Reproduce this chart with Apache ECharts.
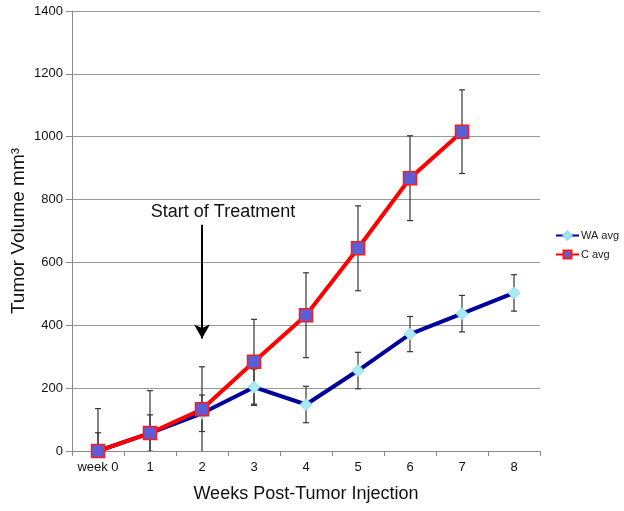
<!DOCTYPE html>
<html><head><meta charset="utf-8">
<script src="https://cdn.jsdelivr.net/npm/echarts@6/dist/echarts.min.js"></script>
<style>html,body{margin:0;padding:0;background:#fff}#c{width:624px;height:511px}</style>
</head><body><div id="c"></div>
<script>
const categories = ['week 0','1','2','3','4','5','6','7','8'];
const waAvg = [0, 57, 120, 203, 148, 256, 372, 437, 503];
const waErr = [58, 58, 58, 58, 58, 58, 56, 58, 58];
const cAvg = [0, 57, 133, 284, 432, 645, 868, 1016, null];
const cErr = [135, 135, 135, 135, 135, 135, 135, 133, null];
const yTicks = [0, 200, 400, 600, 800, 1000, 1200, 1400];
const arrowFrom = 720, arrowTo = 358, arrowCat = '2';

const font = 'Liberation Sans, Arial, Helvetica, sans-serif';
function errData(vals, errs){
  const out = [];
  vals.forEach((v,i)=>{ if (v!=null && errs[i]!=null) out.push([i, v-errs[i], v+errs[i]]); });
  return out;
}
function errRender(params, api){
  const x = api.value(0), lo = api.value(1), hi = api.value(2);
  const pHi = api.coord([x, hi]), pLo = api.coord([x, lo]);
  const w = 3;
  const st = {stroke:'#333', lineWidth:1.2};
  return {type:'group', children:[
    {type:'line', shape:{x1:pHi[0],y1:pHi[1],x2:pLo[0],y2:pLo[1]}, style:st},
    {type:'line', shape:{x1:pHi[0]-w,y1:pHi[1],x2:pHi[0]+w,y2:pHi[1]}, style:st},
    {type:'line', shape:{x1:pLo[0]-w,y1:pLo[1],x2:pLo[0]+w,y2:pLo[1]}, style:st}
  ]};
}
const chart = echarts.init(document.getElementById('c'));
chart.setOption({
  animation:false,
  backgroundColor:'#fff',
  textStyle:{fontFamily:font},
  grid:{left:72, right:84, top:11, bottom:60, containLabel:false, outerBoundsMode:'none'},
  legend:{
    orient:'vertical', left:550, top:225, itemGap:8, itemWidth:23, itemHeight:10,
    data:['WA avg','C avg'],
    textStyle:{fontSize:11, color:'#222', fontFamily:font, padding:[0,0,0,-3]}
  },
  xAxis:{
    type:'category', data:categories, boundaryGap:true,
    axisLine:{lineStyle:{color:'#888', width:1}},
    axisTick:{show:true, alignWithLabel:false, length:5, lineStyle:{color:'#888'}},
    axisLabel:{color:'#111', fontSize:13, margin:10, interval:0, fontFamily:font},
    name:'Weeks Post-Tumor Injection', nameLocation:'middle', nameGap:34, nameMoveOverlap:false,
    nameTextStyle:{fontSize:18, color:'#111', fontFamily:font}
  },
  yAxis:{
    type:'value', min:yTicks[0], max:yTicks[yTicks.length-1], interval:200,
    axisLine:{show:true, lineStyle:{color:'#888', width:1}},
    axisTick:{show:true, length:6, lineStyle:{color:'#888'}},
    axisLabel:{color:'#111', fontSize:13, margin:9, fontFamily:font, formatter:v=>String(v)},
    splitLine:{lineStyle:{color:'#999', width:1}},
    name:'Tumor Volume mm³', nameLocation:'middle', nameGap:44, nameMoveOverlap:false,
    nameTextStyle:{fontSize:19, color:'#111', fontFamily:font}
  },
  series:[
    {type:'custom', name:'errWA', renderItem:errRender, data:errData(waAvg, waErr), clip:true, z:1, silent:true, encode:{x:0, y:[1,2]}},
    {type:'custom', name:'errC', renderItem:errRender, data:errData(cAvg, cErr), clip:true, z:1, silent:true, encode:{x:0, y:[1,2]}},
    {type:'line', name:'WA avg', data:waAvg, z:3,
     lineStyle:{color:'#00009a', width:4},
     itemStyle:{color:'#a8ecf2', borderColor:'#8fdbe6', borderWidth:1},
     symbol:'diamond', symbolSize:12,
     markLine:{
       silent:true, symbol:['none','arrow'], symbolSize:[12,14],
       lineStyle:{color:'#000', width:2, type:'solid'},
       label:{show:true, position:'start', formatter:'Start of Treatment', fontSize:18, color:'#111', fontFamily:font, distance:4, padding:[0,0,0,42]},
       data:[[{coord:[arrowCat, arrowFrom]},{coord:[arrowCat, arrowTo]}]]
     }
    },
    {type:'line', name:'C avg', data:cAvg, z:4,
     lineStyle:{color:'#ff0000', width:4},
     itemStyle:{color:'#5d5ed6', borderColor:'#ff1a1a', borderWidth:1.5},
     symbol:'rect', symbolSize:13}
  ]
});
</script></body></html>
